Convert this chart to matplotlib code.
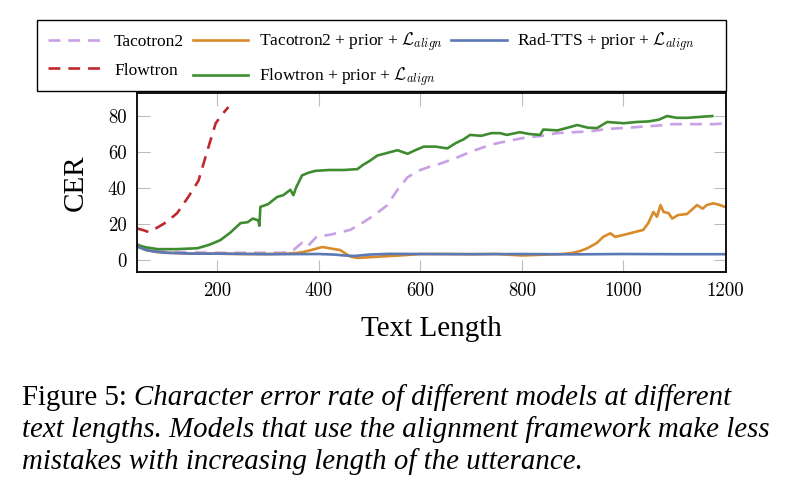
import matplotlib
matplotlib.use("Agg")
import matplotlib.pyplot as plt
from matplotlib.patches import Rectangle

plt.rcParams["mathtext.fontset"] = "cm"
plt.rcParams["font.family"] = "Liberation Serif"

# Tacotron2 (dashed lilac)
taco_x = [42, 60, 80, 100, 150, 200, 250, 300, 330, 350, 367, 377, 396, 422, 462, 488, 510, 535,
          555, 575, 600, 620, 639, 673, 698, 738, 770, 803, 840, 869, 900, 935, 960, 980, 1010,
          1033, 1060, 1098, 1130, 1157, 1180, 1200]
taco_y = [9, 6, 5, 4.5, 4.2, 4, 4, 4, 4, 5.5, 9.5, 7.3, 13, 14, 16.7, 21, 25, 30.5,
          39, 46, 50, 52, 53.5, 57, 60, 64, 66, 67.8, 69, 70.5, 71, 71.5, 72.5, 73, 73.5,
          74, 74.5, 75.5, 75.5, 75.5, 75.5, 76]

# Flowtron (dashed red)
flow_x = [42, 55, 65, 82, 100, 121, 143, 163, 183, 197, 210, 222]
flow_y = [17.5, 16.5, 15.5, 18, 21, 26, 35, 44, 63, 76, 81, 85]

# Tacotron2 + prior + L_align
taco_al_x = [42, 60, 80, 100, 150, 200, 250, 300, 340, 357, 369, 385, 407, 423, 442, 462, 476,
             500, 522, 560, 600, 650, 700, 750, 800, 850, 880, 901, 915, 929, 948, 960, 974, 984,
             1007, 1039, 1049, 1059, 1066, 1073, 1079, 1089, 1096, 1108, 1125, 1145, 1156, 1164,
             1177, 1190, 1200]
taco_al_y = [7.5, 5.5, 4.5, 4, 3.5, 3.5, 3.3, 3.3, 3.5, 3.9, 4.4, 5.5, 7.2, 6.4, 5.5, 1.9, 1.1,
             1.5, 1.9, 2.5, 3.3, 3.3, 3.2, 3.3, 2.5, 3, 3.3, 4, 5, 6.5, 9.5, 12.8, 14.8, 12.8,
             14.4, 16.7, 20.5, 26.7, 24, 30.5, 26.7, 26, 23, 25, 25.5, 30.5, 28.5, 30.5,
             31.5, 30.5, 29.5]

# Flowtron + prior + L_align
flow_al_x = [42, 60, 83, 120, 161, 185, 206, 225, 246, 260, 270, 281, 283, 285, 300, 318, 330,
             344, 350, 355, 367, 380, 393, 420, 450, 476, 488, 500, 515, 535, 555, 565, 575, 590,
             607, 630, 653, 670, 685, 698, 720, 740, 757, 770, 796, 815, 836, 842, 870, 890, 909,
             930, 948, 968, 1000, 1027, 1050, 1070, 1086, 1105, 1125, 1150, 1175]
flow_al_y = [8.3, 7, 6, 6, 6.5, 8.5, 11, 15, 20.5, 21, 23, 22, 19, 29.5, 31, 35, 36,
             39, 36, 40, 47, 48.5, 49.5, 50, 50, 50.5, 53, 55, 58, 59.5, 61, 60, 59, 61,
             63, 63, 62, 65, 67, 69.5, 69, 70.5, 70.5, 69.5, 71, 70, 69.5, 72.5, 72, 73.5, 75,
             73.5, 73.3, 76.7, 76, 76.7, 77, 78, 80, 79, 79, 79.5, 80]

# Rad-TTS + prior + L_align
rad_x = [42, 60, 80, 100, 150, 200, 300, 400, 430, 450, 470, 500, 540, 600, 700, 800, 900,
         1000, 1100, 1200]
rad_y = [7.5, 5.5, 4.5, 4, 3.5, 3.5, 3.2, 3.3, 3, 2.5, 2.2, 3, 3.4, 3.3, 3.2, 3.3, 3.1,
         3.3, 3.2, 3.2]

labels = ["Tacotron2", "Tacotron2 + prior + $\\mathcal{L}_{align}$",
          "Rad-TTS + prior + $\\mathcal{L}_{align}$", "Flowtron",
          "Flowtron + prior + $\\mathcal{L}_{align}$"]
ticks_x = [200, 400, 600, 800, 1000, 1200]
ticks_y = [0, 20, 40, 60, 80]

c_lilac = "#c9a0e6"
c_orange = "#d98a2a"
c_blue = "#5b79b4"
c_green = "#3f8c30"
c_red = "#c0282d"

fig = plt.figure(figsize=(7.92, 4.98), dpi=100)
ax = fig.add_axes([137 / 792, 1 - 272 / 498, (726 - 137) / 792, (272 - 93) / 498])

lw = 1.9
dash = (4.5, 3)
l_taco, = ax.plot(taco_x, taco_y, color=c_lilac, lw=lw, dashes=dash)
l_flow, = ax.plot(flow_x, flow_y, color=c_red, lw=lw, dashes=dash)
l_taco_al, = ax.plot(taco_al_x, taco_al_y, color=c_orange, lw=lw)
l_flow_al, = ax.plot(flow_al_x, flow_al_y, color=c_green, lw=lw)
l_rad, = ax.plot(rad_x, rad_y, color=c_blue, lw=lw)

ax.set_xlim(42, 1202)
ax.set_ylim(-6.7, 92.8)
ax.set_xticks(ticks_x)
ax.set_yticks(ticks_y)
ax.tick_params(direction="in", length=9, width=0.8, color="#bdbdbd",
               top=True, right=True, labelsize=13.5, pad=7.5)
for lab in ax.get_xticklabels() + ax.get_yticklabels():
    lab.set_family("cmr10")
for s in ax.spines.values():
    s.set_linewidth(1.3)

ax.set_xlabel("Text Length", fontsize=21, labelpad=11)
ax.set_ylabel("CER", fontsize=21, labelpad=14)

# legend: frame drawn separately, as wide as the plot area
fig.patches.append(Rectangle((37 / 792, 1 - 91 / 498), (726 - 37) / 792, (91 - 20) / 498,
                             transform=fig.transFigure, fill=False, ec="black", lw=1.0))
handles = [l_taco, l_flow, l_taco_al, l_flow_al, l_rad]
leg_labels = [labels[0], labels[3], labels[1], labels[4], labels[2]]
fig.legend(handles, leg_labels, ncol=3, loc="upper left", frameon=False,
           bbox_to_anchor=(48 / 792, 1 - 31 / 498), fontsize=12.5,
           handlelength=3.2, handletextpad=0.6, columnspacing=0.5,
           labelspacing=0.7, borderpad=0, borderaxespad=0)

# caption
cap_size = 20.8
r = fig.canvas.get_renderer()
t1 = fig.text(22 / 792, 1 - 398 / 498, "Figure 5: ", fontsize=cap_size, va="center")
bb = t1.get_window_extent(r)
fig.text(bb.x1 / 792, 1 - 398 / 498,
         "Character error rate of different models at different",
         fontsize=cap_size, style="italic", va="center")
fig.text(22 / 792, 1 - 430 / 498,
         "text lengths. Models that use the alignment framework make less",
         fontsize=cap_size, style="italic", va="center")
fig.text(22 / 792, 1 - 462 / 498,
         "mistakes with increasing length of the utterance.",
         fontsize=cap_size, style="italic", va="center")

fig.savefig("out.png", dpi=100)
